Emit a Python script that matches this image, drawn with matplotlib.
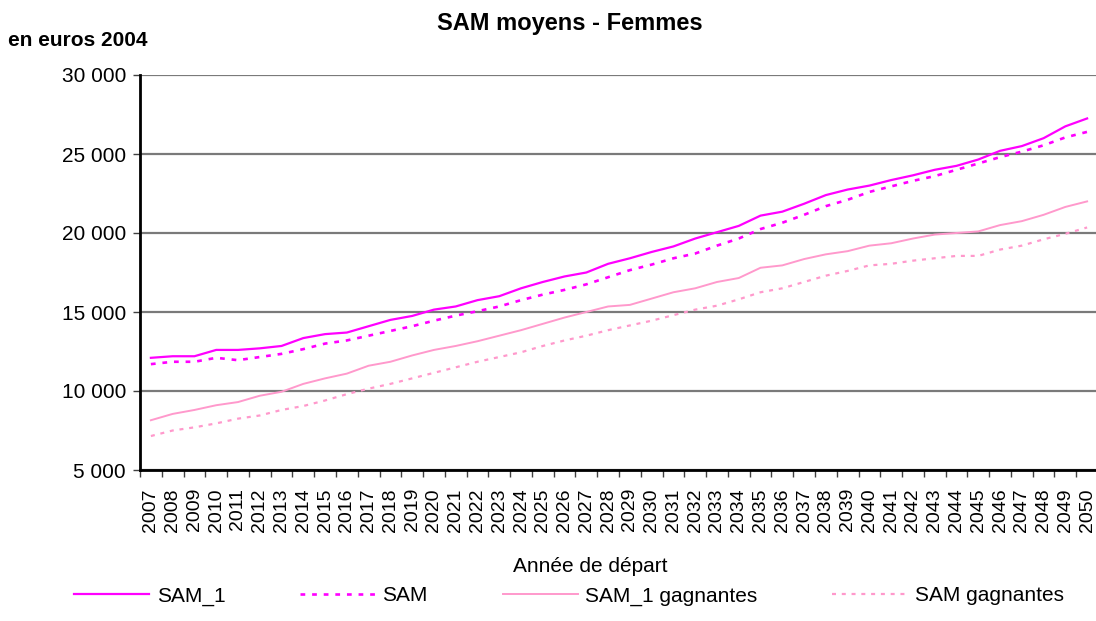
import numpy as np
import matplotlib
matplotlib.use("Agg")
import matplotlib.pyplot as plt

plt.rcParams['font.family'] = ['Liberation Sans', 'DejaVu Sans']

years = list(range(2007, 2051))
sam_1 = [12100, 12200, 12200, 12600, 12600, 12700, 12850, 13350, 13600, 13700,
         14100, 14500, 14750, 15150, 15350, 15750, 16000, 16500, 16900, 17250,
         17500, 18050, 18400, 18800, 19150, 19650, 20050, 20450, 21100, 21350,
         21850, 22400, 22750, 23000, 23350, 23650, 24000, 24250, 24650, 25200,
         25500, 26000, 26750, 27250]
sam = [11700, 11850, 11850, 12100, 11950, 12150, 12350, 12650, 13000, 13200,
       13500, 13800, 14100, 14450, 14770, 15050, 15350, 15750, 16100, 16400,
       16750, 17200, 17650, 18000, 18400, 18700, 19200, 19650, 20250, 20650,
       21150, 21700, 22100, 22600, 22950, 23300, 23600, 24000, 24400, 24800,
       25150, 25550, 26050, 26400]
sam_1_gagnantes = [8150, 8550, 8800, 9100, 9300, 9700, 9950, 10450, 10800, 11100,
                   11600, 11850, 12250, 12600, 12850, 13150, 13500, 13850, 14250, 14650,
                   15000, 15350, 15450, 15850, 16250, 16500, 16900, 17150, 17800, 17950,
                   18350, 18650, 18850, 19200, 19350, 19650, 19900, 20000, 20100, 20500,
                   20750, 21150, 21650, 22000]
sam_gagnantes = [7150, 7500, 7700, 7950, 8250, 8450, 8800, 9050, 9400, 9800,
                 10150, 10450, 10800, 11150, 11500, 11850, 12150, 12450, 12850, 13200,
                 13500, 13850, 14150, 14450, 14800, 15150, 15400, 15800, 16250, 16500,
                 16900, 17300, 17600, 17950, 18050, 18250, 18400, 18550, 18550, 18950,
                 19200, 19600, 19950, 20350]
y_ticks = [5000, 10000, 15000, 20000, 25000, 30000]
y_labels = ['5 000', '10 000', '15 000', '20 000', '25 000', '30 000']

magenta = '#FF00FF'
pink = '#FF99CC'

fig = plt.figure(figsize=(10.96, 6.21), dpi=100)
ax = fig.add_axes([140 / 1096, 1 - 470 / 621, 958 / 1096, 395 / 621])

x = np.arange(len(years))
ax.plot(x, sam_1, color=magenta, lw=1.6, label='SAM_1')
ax.plot(x, sam, color=magenta, lw=1.9, dashes=(1.8, 2.6), label='SAM')
ax.plot(x, sam_1_gagnantes, color=pink, lw=1.4, label='SAM_1 gagnantes')
ax.plot(x, sam_gagnantes, color=pink, lw=1.6, dashes=(1.8, 2.6), label='SAM gagnantes')

ax.set_xlim(-0.5, len(years) - 0.5)
ax.set_ylim(5000, 30000)
ax.set_yticks(y_ticks)
ax.set_yticklabels(y_labels, fontsize=15)
ax.yaxis.grid(True, color='#7a7a7a', lw=1.6)
ax.set_axisbelow(True)

ax.set_xticks(x)
ax.set_xticklabels([str(y) for y in years], rotation=90, fontsize=14)
ax.set_xticks(np.arange(-0.5, len(years), 1), minor=True)
ax.tick_params(axis='x', which='major', length=0, pad=13)
ax.tick_params(axis='x', which='minor', length=5, width=1, direction='out', color='#404040')
ax.tick_params(axis='y', length=5, width=1, direction='out', pad=5, color='#404040')

for s in ['top', 'right']:
    ax.spines[s].set_visible(False)
ax.spines['left'].set_linewidth(2)
ax.spines['bottom'].set_linewidth(2)

fig.text(570 / 1096, 1 - 30 / 621, 'SAM moyens - Femmes', ha='center', va='baseline',
         fontsize=17, fontweight='bold')
fig.text(8 / 1096, 1 - 46 / 621, 'en euros 2004', ha='left', va='baseline',
         fontsize=15, fontweight='bold')
fig.text(590 / 1096, 1 - 566 / 621, 'Année de départ', ha='center', va='center', fontsize=15)

fig.legend(loc='center', bbox_to_anchor=(569 / 1096, 1 - 596 / 621), ncol=4, frameon=False,
           fontsize=15, handlelength=3.6, handletextpad=0.35, columnspacing=3.6)

fig.savefig('out.png', dpi=100)
